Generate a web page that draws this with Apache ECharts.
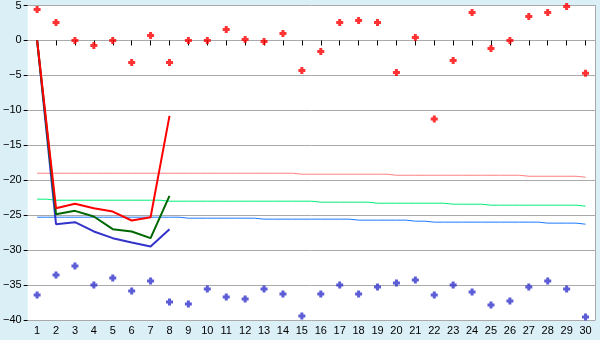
<!DOCTYPE html>
<html>
<head>
<meta charset="utf-8">
<script src="https://cdn.jsdelivr.net/npm/echarts@6/dist/echarts.min.js"></script>
<style>html,body{margin:0;padding:0;background:#dbeff6;}#c{width:600px;height:340px;}</style>
</head>
<body>
<div id="c"></div>
<script>
var categories = ['1','2','3','4','5','6','7','8','9','10','11','12','13','14','15','16','17','18','19','20','21','22','23','24','25','26','27','28','29','30'];
var yTicks = [-40, 5, 5]; // min, max, interval
var redPoints = [4.43, 2.57, 0, -0.71, 0, -3.14, 0.71, -3.14, 0, 0, 1.57, 0.14, -0.14, 1.0, -4.29, -1.57, 2.57, 2.86, 2.57, -4.57, 0.43, -11.24, -2.86, 4.0, -1.14, 0, 3.43, 4.0, 4.86, -4.71];
var bluePoints = [-36.43, -33.57, -32.29, -35.0, -34.0, -35.86, -34.43, -37.43, -37.71, -35.57, -36.71, -37.0, -35.57, -36.29, -39.43, -36.29, -35.0, -36.29, -35.29, -34.71, -34.29, -36.43, -35.0, -36.0, -37.86, -37.29, -35.29, -34.43, -35.57, -39.57];
var redLine = [0, -24.0, -23.38, -24.0, -24.48, -25.76, -25.29, -10.8];
var greenLine = [0, -24.86, -24.38, -25.19, -27.0, -27.33, -28.29, -22.24];
var blueLine = [0, -26.29, -26.0, -27.33, -28.29, -28.91, -29.48, -27.0];
var pinkRef = [-19.0,-19.0,-19.0,-19.0,-19.0,-19.0,-19.0,-19.0,-19.0,-19.0,-19.0,-19.0,-19.0,-19.0,-19.14,-19.14,-19.14,-19.14,-19.14,-19.29,-19.29,-19.29,-19.29,-19.29,-19.29,-19.29,-19.43,-19.43,-19.43,-19.57];
var greenRef = [-22.71,-22.86,-22.86,-22.86,-22.86,-22.86,-22.86,-23.0,-23.0,-23.0,-23.0,-23.0,-23.0,-23.0,-23.0,-23.14,-23.14,-23.14,-23.29,-23.29,-23.29,-23.29,-23.43,-23.43,-23.57,-23.57,-23.57,-23.57,-23.57,-23.71];
var blueRef = [-25.29,-25.29,-25.29,-25.29,-25.29,-25.29,-25.29,-25.29,-25.43,-25.43,-25.43,-25.43,-25.57,-25.57,-25.57,-25.57,-25.57,-25.71,-25.71,-25.71,-25.86,-26.0,-26.0,-26.0,-26.0,-26.0,-26.0,-26.14,-26.14,-26.29];

var marker = 'path://M2,0H5V2H7V5H5V7H2V5H0V2H2Z';
var chart = echarts.init(document.getElementById('c'));
var fontFam = '"Liberation Sans", Arial, sans-serif';
chart.setOption({
  backgroundColor: '#dbeff6',
  animation: false,
  grid: {left: 26, right: 5, top: 5, bottom: 20, show: true, backgroundColor: '#ffffff', borderWidth: 0},
  xAxis: {
    type: 'category', data: categories, boundaryGap: true,
    axisLine: {show: true, lineStyle: {color: '#aaaaaa', width: 1}},
    axisTick: {show: true, alignWithLabel: true, length: 5, lineStyle: {color: '#000000'}},
    axisLabel: {color: '#000000', fontFamily: fontFam, fontSize: 11, margin: 5, interval: 0},
    splitLine: {show: false}
  },
  yAxis: [{
    type: 'value', min: yTicks[0], max: yTicks[1], interval: yTicks[2],
    axisLine: {show: false},
    axisTick: {show: true, length: 4, lineStyle: {color: '#000000'}},
    axisLabel: {color: '#000000', fontFamily: fontFam, fontSize: 11, margin: 6,
      formatter: function (v) { return String(v).replace('-', '\u2212'); }},
    splitLine: {show: true, lineStyle: {color: '#aaaaaa', width: 1}}
  }, {
    type: 'value', min: yTicks[0], max: yTicks[1], interval: yTicks[2], position: 'right',
    axisLine: {show: true, lineStyle: {color: '#aaaaaa', width: 1}},
    axisTick: {show: false}, axisLabel: {show: false}, splitLine: {show: false}
  }],
  series: [
    {type: 'line', data: pinkRef, step: 'middle', symbol: 'none', lineStyle: {color: '#ff8080', width: 1}, z: 2},
    {type: 'line', data: greenRef, step: 'middle', symbol: 'none', lineStyle: {color: '#00ee77', width: 1}, z: 2},
    {type: 'line', data: blueRef, step: 'middle', symbol: 'none', lineStyle: {color: '#1a7aff', width: 1}, z: 2},
    {type: 'line', data: blueLine, symbol: 'none', lineStyle: {color: '#3333cc', width: 2}, z: 3},
    {type: 'line', data: greenLine, symbol: 'none', lineStyle: {color: '#006600', width: 2}, z: 3},
    {type: 'line', data: redLine, symbol: 'none', lineStyle: {color: '#ff0000', width: 2}, z: 3},
    {type: 'scatter', data: redPoints, symbol: marker, symbolSize: 7, itemStyle: {color: '#ff0000'}, z: 4},
    {type: 'scatter', data: bluePoints, symbol: marker, symbolSize: 7, itemStyle: {color: '#3333cc'}, z: 4}
  ]
});
</script>
</body>
</html>
